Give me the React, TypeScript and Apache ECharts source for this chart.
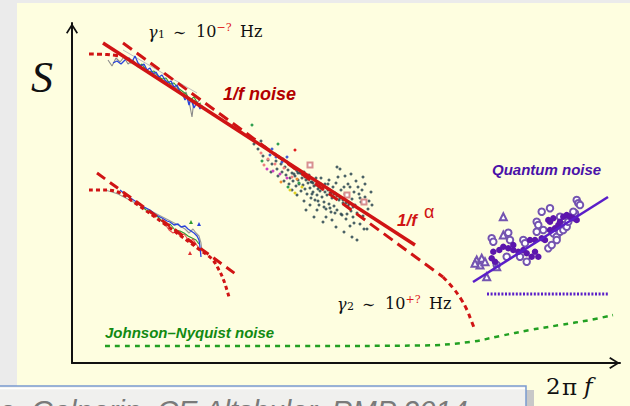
import React, { useEffect, useRef } from 'react';
import * as echarts from 'echarts';

// Schematic coordinates: x ~ log(2πf) (arb.), y ~ log S (arb.)
const X_MAX = 54.8;
const Y_MAX = 34;

// 1/f fit and its extensions
const ONE_OVER_F_FIT = [[3.1, 32.0], [34.3, 11.8]];
const UPPER_DASHED = [[5.1, 32.0], [37.1, 8.6]];
const UPPER_CUTOFF = [[37.1, 8.6], [38.1, 7.5], [38.9, 6.4], [39.5, 5.3], [39.9, 4.3], [40.3, 3.3]];
const UPPER_LOW_ROLLOFF = [[1.7, 30.9], [3.5, 30.85], [4.8, 30.7]];
const UPPER_GREY_FIT = [[5.1, 31.3], [12.5, 27.0]];
const LOWER_DASHED = [[2.5, 19.0], [16.5, 8.8]];
const LOWER_ROLLOFF = [[1.7, 17.3], [3.3, 17.3], [4.6, 17.1], [6.3, 16.0], [9.8, 13.5], [12.8, 11.3], [14.0, 10.4], [14.7, 9.3], [15.2, 8.2], [15.7, 6.6]];

// Johnson–Nyquist noise
const JOHNSON_NYQUIST = [[3.3, 1.7], [22.8, 1.7], [34.8, 1.75], [39.8, 2.1], [42.8, 2.7], [45.8, 3.3], [48.8, 3.8], [51.8, 4.3], [54.1, 4.8]];

// Quantum noise
const QUANTUM_FIT = [[40.1, 8.1], [53.6, 16.6]];
const QUANTUM_FLOOR = [[41.5, 6.9], [53.6, 6.9]];
const QUANTUM_FILLED = [[41.97, 10.47], [42.13, 11.13], [42.73, 11.3], [43.13, 11.63], [43.63, 11.47], [44.13, 11.3], [44.63, 11.13], [45.13, 11.3], [45.47, 10.97], [45.8, 12.3], [46.3, 11.13], [46.63, 10.63], [45.97, 10.63], [46.97, 12.47], [47.3, 12.3], [47.63, 14.3], [47.8, 14.13], [48.13, 14.47], [48.3, 13.47], [48.63, 13.8], [48.8, 14.13], [49.13, 14.63], [49.47, 14.8], [49.8, 14.63], [50.13, 14.47], [50.47, 14.3], [47.8, 13.3], [46.3, 12.3], [44.13, 11.8], [42.3, 10.13]];
const QUANTUM_OPEN = [[41.97, 12.47], [42.13, 12.13], [43.63, 13.03], [43.8, 12.3], [45.13, 12.3], [45.3, 11.97], [46.47, 14.13], [46.63, 13.8], [46.97, 15.13], [47.8, 15.47], [48.13, 12.97], [48.47, 12.63], [48.8, 13.13], [49.13, 13.3], [49.3, 13.8], [49.47, 13.63], [49.63, 14.13], [49.97, 14.63], [50.3, 14.97], [50.47, 16.3], [50.63, 15.97], [50.8, 15.8], [45.47, 10.13], [44.8, 10.63], [47.63, 11.47], [47.97, 11.8], [43.47, 10.63], [42.47, 9.8], [46.47, 13.13], [47.13, 13.3], [48.47, 12.3], [48.8, 14.63], [50.13, 15.13]];
const QUANTUM_TRIANGLES = [[43.13, 14.63], [43.13, 12.8], [40.47, 10.3], [40.8, 9.8], [40.97, 10.47], [41.47, 8.63], [42.47, 9.63], [40.3, 9.97], [41.3, 10.13]];

// Measured spectra (upper group)
const UPPER_BLUE = [[4.1, 30.0], [4.5, 30.2], [4.9, 29.9], [5.3, 30.3], [5.7, 30.5], [6.0, 30.1], [6.3, 30.7], [6.6, 30.0], [6.9, 29.7], [7.2, 29.9], [7.5, 29.3], [7.8, 29.5], [8.1, 28.9], [8.4, 29.1], [8.7, 28.6], [9.0, 28.8], [9.3, 28.3], [9.6, 28.0], [9.9, 28.2], [10.2, 27.6], [10.5, 27.8], [10.8, 27.1], [11.1, 26.8], [11.3, 26.3], [11.5, 26.6], [11.7, 25.8], [11.9, 26.4], [12.2, 25.5], [12.5, 26.1], [12.8, 25.4], [13.0, 25.8]];
const UPPER_GREEN = [[5.8, 30.0], [6.2, 30.1], [6.6, 29.6], [7.0, 29.9], [7.4, 29.3], [7.8, 29.1], [8.2, 29.2], [8.6, 28.7], [9.0, 28.4], [9.4, 28.5], [9.8, 27.9], [10.2, 28.0], [10.6, 27.5], [11.0, 27.2], [11.4, 26.9], [11.8, 26.3], [12.2, 26.6], [12.6, 25.9], [12.9, 26.0]];
const UPPER_GREY = [[3.6, 30.3], [4.0, 29.7], [4.4, 30.5], [4.8, 30.1], [5.2, 30.6], [5.6, 29.9], [6.1, 30.3], [6.6, 29.7], [7.1, 29.5], [7.6, 29.2], [8.1, 29.1], [8.6, 28.5], [9.1, 28.3], [9.6, 28.1], [10.1, 27.7], [10.6, 27.4], [11.1, 26.7], [11.4, 27.1], [11.7, 26.2], [12.0, 24.6], [12.2, 26.3], [12.5, 26.0], [12.8, 26.4]];

// Measured spectra (lower group)
const LOWER_BLUE = [[4.8, 17.3], [5.4, 16.8], [6.0, 16.4], [6.6, 16.0], [7.2, 15.6], [7.8, 15.3], [8.4, 14.8], [9.0, 14.5], [9.5, 14.2], [9.8, 14.1], [10.2, 13.8], [10.6, 13.9], [10.9, 13.6], [11.3, 13.7], [11.6, 13.4], [11.9, 13.2], [12.2, 13.0], [12.5, 12.7], [12.7, 12.3], [12.8, 11.6], [12.9, 10.6]];
const LOWER_GREEN = [[6.8, 15.8], [7.4, 15.3], [8.0, 15.1], [8.6, 14.6], [9.1, 14.1], [9.4, 13.7], [9.8, 13.9], [10.3, 13.3], [10.8, 13.2], [11.2, 13.0], [11.6, 12.7], [12.0, 12.5], [12.4, 12.3], [12.7, 11.9]];
const LOWER_RED = [[9.3, 13.9], [9.7, 13.3], [10.1, 13.0], [10.4, 13.2], [10.8, 12.7], [11.2, 12.9], [11.5, 12.5], [11.8, 12.1], [12.1, 12.4], [12.4, 11.9], [12.7, 11.5], [12.9, 11.1]];
const LOWER_GREY = [[3.3, 17.3], [4.0, 17.1], [4.6, 16.9], [10.8, 13.7], [11.3, 13.4], [11.7, 13.0], [12.1, 13.4], [12.4, 13.0], [12.7, 12.7], [12.9, 12.0], [13.0, 11.3]];
const LOWER_GREEN_MARK = [[11.9, 14.1]];
const LOWER_BLUE_MARK = [[12.7, 13.9]];
const LOWER_RED_MARK = [[11.8, 11.0]];

// Scatter cloud in the middle
const DARK_CLOUD = [[18.2, 21.9], [18.6, 21.4], [18.9, 22.2], [19.1, 20.7], [19.3, 21.6], [19.6, 20.3], [19.8, 21.2], [20.0, 19.9], [20.2, 20.9], [20.4, 20.2], [20.5, 19.4], [20.7, 20.6], [20.9, 19.9], [21.0, 19.1], [21.1, 20.4], [21.3, 19.6], [21.4, 18.8], [21.5, 20.1], [21.6, 19.3], [21.8, 18.5], [21.9, 19.8], [22.0, 19.0], [22.1, 18.2], [22.2, 19.5], [22.3, 18.7], [22.4, 17.7], [22.5, 19.2], [22.6, 18.3], [22.7, 17.9], [22.8, 19.0], [22.9, 17.2], [23.0, 18.5], [23.1, 17.8], [23.2, 19.1], [23.3, 17.4], [23.4, 18.3], [23.5, 16.9], [23.6, 18.0], [23.7, 18.8], [23.8, 17.5], [23.9, 16.5], [24.0, 18.1], [24.1, 17.1], [24.2, 17.7], [24.3, 16.3], [24.4, 18.5], [24.5, 16.8], [24.6, 17.4], [24.7, 15.8], [24.8, 17.2], [24.9, 17.9], [25.0, 16.6], [25.1, 17.6], [25.2, 16.1], [25.3, 17.1], [25.4, 15.4], [25.5, 16.8], [25.6, 17.9], [25.7, 15.9], [25.8, 17.0], [25.9, 15.1], [26.0, 16.5], [26.1, 17.6], [26.2, 15.7], [26.3, 17.0], [26.5, 15.3], [26.6, 18.6], [26.7, 16.3], [26.9, 17.3], [27.0, 14.8], [27.1, 16.0], [27.3, 16.9], [27.4, 14.4], [27.6, 15.7], [27.8, 17.6], [27.9, 15.2], [28.0, 16.4], [28.2, 14.0], [28.3, 15.8], [28.5, 15.0], [28.7, 16.9], [28.9, 16.1], [29.1, 14.7], [29.3, 16.6], [29.5, 13.4], [29.6, 15.4], [26.5, 19.6], [26.8, 19.4], [27.3, 18.7], [27.9, 18.9], [28.4, 18.2], [29.1, 18.6], [29.3, 17.9], [29.0, 17.3], [28.6, 17.6], [27.6, 17.9], [27.2, 13.1], [28.0, 12.6], [28.5, 12.3], [26.4, 13.6], [25.1, 14.1], [29.2, 13.4], [24.2, 14.6], [23.4, 15.3],
  [22.2, 18.9], [22.6, 19.0], [23.0, 18.9], [23.3, 18.6], [23.6, 18.4], [23.9, 18.1], [24.1, 18.0], [24.4, 17.8], [24.7, 17.6], [25.0, 17.4], [25.3, 17.9], [25.6, 17.3], [25.9, 17.0], [26.2, 16.9], [26.5, 16.7], [26.8, 16.5], [27.1, 16.3], [27.4, 16.0], [27.7, 15.9], [28.1, 15.6], [24.0, 16.9], [24.6, 16.2], [25.2, 15.6], [25.8, 15.5], [26.3, 15.0], [26.9, 14.9], [27.5, 14.9], [28.1, 14.6], [23.2, 16.2], [22.5, 16.8], [21.7, 17.9], [24.9, 18.5], [25.7, 18.3], [26.4, 18.0], [27.2, 17.6], [28.2, 17.1], [28.8, 16.5], [29.7, 16.2], [30.0, 15.8], [29.9, 17.1], [26.0, 14.3], [25.4, 14.6], [24.5, 15.3], [23.8, 15.8], [22.0, 17.3], [21.2, 18.2], [20.6, 18.7], [19.9, 19.1], [27.8, 13.7], [28.8, 13.9]];
const CLOUD_PINK = [[18.9, 21.0], [19.6, 20.4], [20.3, 19.9], [21.2, 19.5], [22.0, 18.6], [19.2, 19.8]];
const CLOUD_MAGENTA = [[19.5, 19.4], [20.1, 19.2], [20.8, 18.9], [21.5, 18.5]];
const CLOUD_GREEN = [[18.0, 23.8], [19.0, 20.2], [20.6, 21.9], [22.7, 18.0], [21.6, 17.6]];
const CLOUD_YELLOW = [[21.8, 17.3], [22.3, 17.0], [23.0, 17.6]];
const CLOUD_ORANGE = [[20.9, 18.1], [22.5, 18.4]];
const CLOUD_BLUE = [[19.8, 20.8], [20.4, 20.6], [21.0, 20.1], [20.0, 21.4], [21.5, 20.6]];
const CLOUD_RED = [[22.3, 21.3]];
const CLOUD_SQUARES = [[23.8, 19.8], [27.5, 16.8], [29.2, 16.1]];

const ARROW = 'path://M6,0 L12,9.6 L10.6,10.6 L6,3.2 L1.4,10.6 L0,9.6 Z';

const RED = '#d01414';
const SUP_RED = '#e01818';
const MATH = '"DejaVu Serif", "Liberation Serif", serif';
const SERIF = '"Liberation Serif", "DejaVu Serif", serif';
const SANS = '"Liberation Sans", Arial, sans-serif';

function line(data: number[][], color: string, width: number, type: any = 'solid', z = 3, smooth: any = false) {
  return {
    type: 'line', data, symbol: 'none', showSymbol: false, smooth, silent: true, z,
    lineStyle: { color, width, type, cap: 'butt' },
  };
}
function scatter(data: number[][], symbol: string, size: number, color: string, z = 2, opacity = 1, border = 1) {
  return {
    type: 'scatter', data, symbol, symbolSize: size, silent: true, z,
    itemStyle: { color, opacity, borderWidth: border },
  };
}

function axis(type: 'x' | 'y') {
  return {
    type: 'value', min: 0, max: type === 'x' ? X_MAX : Y_MAX,
    axisLine: {
      show: true, onZero: false,
      lineStyle: { color: '#111', width: 2 },
      symbol: ['none', ARROW], symbolSize: [12, 11], symbolOffset: [0, -5.5],
    },
    axisTick: { show: false }, axisLabel: { show: false }, splitLine: { show: false },
  };
}

function txt(x: number, y: number, text: string, style: any, align = 'left') {
  return {
    type: 'text', x, y, z: 50, silent: true,
    style: { text, align, textAlign: align, verticalAlign: 'middle', textVerticalAlign: 'middle', ...style },
  };
}
function mathTxt(x: number, y: number, text: string, size: number, fill = '#111', italic = false) {
  return txt(x, y, text, { fill, fontSize: size, fontFamily: MATH, fontStyle: italic ? 'italic' : 'normal' });
}

// γ_n ∼ 10^{±?} Hz built from separate text pieces
function gammaLabel(x0: number, yMid: number, sub: string, sup: string) {
  return [
    mathTxt(x0, yMid + 1, 'γ', 16, '#111', true),
    mathTxt(x0 + 10, yMid + 2.5, sub, 11),
    mathTxt(x0 + 25, yMid + 1, '∼', 16),
    mathTxt(x0 + 48, yMid, '10', 16),
    mathTxt(x0 + 68.5, yMid - 4.3, sup, 11, SUP_RED),
    mathTxt(x0 + 92, yMid, 'Hz', 16),
  ];
}

export default function App() {
  const ref = useRef<HTMLDivElement>(null);
  useEffect(() => {
    const chart = echarts.init(ref.current!, null, { renderer: 'svg' });
    chart.setOption({
      animation: false,
      backgroundColor: '#fefee0',
      grid: { left: 72, right: 10, top: 23, bottom: 43, containLabel: false },
      xAxis: axis('x'),
      yAxis: axis('y'),
      series: [
        line(JOHNSON_NYQUIST, '#22a022', 2.5, [5, 5], 3, 0.4),
        scatter(DARK_CLOUD, 'circle', 3, '#2c4650', 2, 0.85, 0),
        scatter(CLOUD_PINK, 'circle', 3, '#f08080', 2, 1, 0),
        scatter(CLOUD_MAGENTA, 'circle', 3, '#d040c0', 2, 1, 0),
        scatter(CLOUD_GREEN, 'circle', 3, '#30a050', 2, 1, 0),
        scatter(CLOUD_YELLOW, 'circle', 3, '#e0d020', 2, 1, 0),
        scatter(CLOUD_ORANGE, 'circle', 3, '#f09030', 2, 1, 0),
        scatter(CLOUD_BLUE, 'circle', 3, '#4060d0', 2, 1, 0),
        scatter(CLOUD_RED, 'circle', 3, '#e02020', 2, 1, 0),
        scatter(CLOUD_SQUARES, 'emptyRect', 5, '#d89090', 2, 1, 1),
        line(UPPER_GREY_FIT, '#bdbdbd', 1, 'solid', 2),
        line(UPPER_GREY, '#8a8a8a', 1.1, 'solid', 2),
        line(UPPER_GREEN, '#2f9a2f', 1.1, 'solid', 2),
        line(UPPER_BLUE, '#2a44dc', 1.3, 'solid', 2),
        line(LOWER_GREY, '#9a9a9a', 1.1, 'solid', 2),
        line(LOWER_GREEN, '#2f9a2f', 1.1, 'solid', 2),
        line(LOWER_RED, '#e85050', 1.1, 'solid', 2),
        line(LOWER_BLUE, '#2a44dc', 1.3, 'solid', 2),
        scatter(LOWER_GREEN_MARK, 'triangle', 4, '#2f9a2f', 3, 1, 0),
        scatter(LOWER_BLUE_MARK, 'triangle', 4, '#2a44dc', 3, 1, 0),
        scatter(LOWER_RED_MARK, 'triangle', 4, '#e03030', 3, 1, 0),
        line(UPPER_LOW_ROLLOFF, RED, 3, [5, 3], 4, 0.3),
        line(LOWER_ROLLOFF, RED, 3, [4, 3], 4, 0.35),
        line(LOWER_DASHED, RED, 3, [10, 6], 4),
        line(UPPER_DASHED, RED, 3, [11, 6], 4),
        line(UPPER_CUTOFF, RED, 3, [5, 4], 4, 0.4),
        line(ONE_OVER_F_FIT, RED, 3.5, 'solid', 5),
        scatter(QUANTUM_OPEN, 'emptyCircle', 6.5, '#7454b0', 3, 1, 1),
        scatter(QUANTUM_TRIANGLES, 'emptyTriangle', 7, '#7454b0', 3, 1, 1),
        scatter(QUANTUM_FILLED, 'circle', 6.5, '#5c16ac', 4, 1, 0),
        line(QUANTUM_FIT, '#5a1ec8', 2.5, 'solid', 5),
        line(QUANTUM_FLOOR, '#5a1ec8', 3, [2, 1.6], 5),
      ],
      graphic: [
        { type: 'rect', z: -1, silent: true, shape: { x: 0, y: 0, width: 630, height: 3 }, style: { fill: '#ebebeb' } },
        { type: 'rect', z: -1, silent: true, shape: { x: 0, y: 0, width: 17, height: 386 }, style: { fill: '#ebebeb' } },
        { type: 'rect', z: -1, silent: true, shape: { x: 526, y: 390, width: 8, height: 20 }, style: { fill: '#c8c8c8' } },
        { type: 'rect', z: -1, silent: true, shape: { x: -2, y: 386, width: 528, height: 30 }, style: { fill: '#f0f0ee', stroke: '#7a9ad0', lineWidth: 1.5 } },
        { type: 'line', z: -1, silent: true, shape: { x1: 0, y1: 388.5, x2: 525, y2: 388.5 }, style: { stroke: '#ffffff', lineWidth: 1.5 } },
        txt(-1, 411, 'e, Galperin, CE Altshuler, RMP 2014', { fill: '#7a7a7a', fontSize: 29, fontStyle: 'italic', fontFamily: SANS }),
        txt(42, 77, 'S', { fill: '#111', fontSize: 44, fontStyle: 'italic', fontFamily: SERIF }, 'center'),
        mathTxt(546, 385.5, '2', 23),
        mathTxt(562, 387, 'π', 23),
        mathTxt(584, 385.5, 'f', 23, '#111', true),
        ...gammaLabel(148, 31.5, '1', '−?'),
        ...gammaLabel(337, 303.5, '2', '+?'),
        txt(223, 93.5, '1/f noise', { fill: '#b30000', fontSize: 18, fontStyle: 'italic', fontWeight: 'bold', fontFamily: SANS }),
        txt(397, 220.5, '1/f', { fill: RED, fontSize: 17, fontStyle: 'italic', fontWeight: 'bold', fontFamily: SANS }),
        txt(424, 212, 'α', { fill: RED, fontSize: 18, fontFamily: SANS }),
        txt(492, 169.5, 'Quantum noise', { fill: '#4a12a8', fontSize: 15, fontStyle: 'italic', fontWeight: 'bold', fontFamily: SANS }),
        txt(105, 332, 'Johnson–Nyquist noise', { fill: '#128a12', fontSize: 15, fontStyle: 'italic', fontWeight: 'bold', fontFamily: SANS }),
      ],
    });
    return () => chart.dispose();
  }, []);
  return <div ref={ref} style={{ position: 'absolute', left: 0, top: 0, width: 630, height: 406 }} />;
}
